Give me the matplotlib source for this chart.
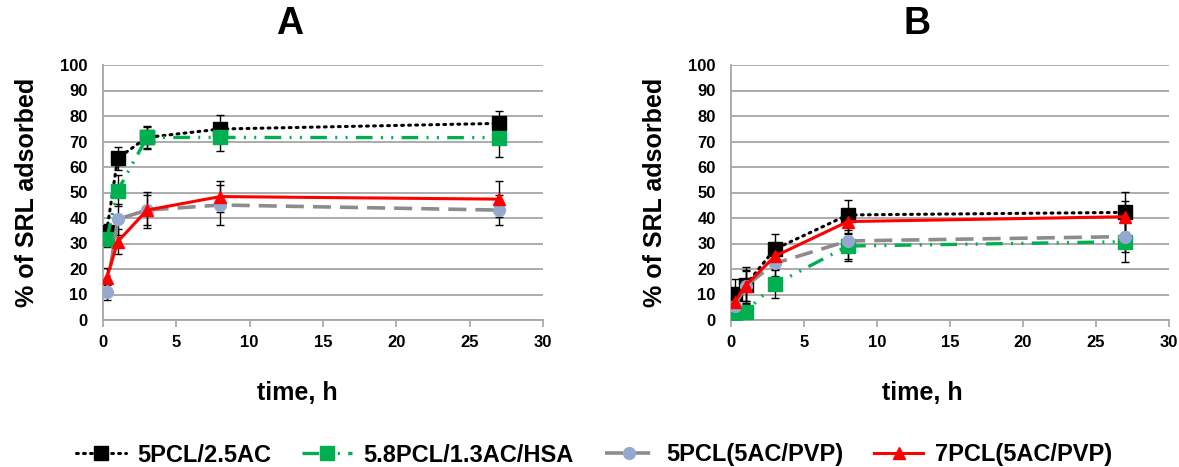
import matplotlib
matplotlib.use("Agg")
import matplotlib.pyplot as plt

plt.rcParams['font.family'] = ['Liberation Sans', 'DejaVu Sans']
plt.rcParams['font.weight'] = 'bold'

labels = ["5PCL/2.5AC", "5.8PCL/1.3AC/HSA", "5PCL(5AC/PVP)", "7PCL(5AC/PVP)"]
t = [0.25, 1, 3, 8, 27]

# Panel A
A_black = [34.6, 63.4, 71.6, 74.9, 77.1]
A_black_err = [3, 4.6, 4.4, 5.4, 5]
A_green = [31.6, 50.7, 71.6, 71.6, 71.5]
A_green_err = [3, 6, 4, 5.5, 7.7]
A_grey = [10.8, 39.5, 43.1, 45.1, 43.1]
A_grey_err = [3, 6, 6, 8, 6]
A_red = [16.3, 30.7, 43.1, 48.4, 47.4]
A_red_err = [4, 5, 7, 6, 7]

# Panel B
B_black = [10.2, 13.7, 27.8, 41.2, 42.2]
B_black_err = [5.8, 7, 5.8, 6, 8]
B_green = [0.3, 3.3, 14, 29, 30.7]
B_green_err = [1, 3, 5.5, 5, 7.8]
B_grey = [5.5, 13.3, 22.2, 31, 32.7]
B_grey_err = [3, 6, 5, 7.7, 6]
B_red = [7.0, 13.5, 25.0, 38.6, 40.5]
B_red_err = [4, 6, 5, 5, 6]

styles = [
    dict(color='black', linestyle=(0, (0.6, 1.7)), linewidth=2.2, marker='s', markersize=9.5,
         markerfacecolor='black', markeredgecolor='black', dash_capstyle='round'),
    dict(color='#00B050', linestyle=(0, (5, 2.5, 0.6, 2.5, 0.6, 2.5)), linewidth=2.4, marker='s', markersize=9.5,
         markerfacecolor='#00B050', markeredgecolor='#00B050'),
    dict(color='#8C8C8C', linestyle=(0, (5, 2.5)), linewidth=2.6, marker='o', markersize=8.5,
         markerfacecolor='#95A9D0', markeredgecolor='#95A9D0'),
    dict(color='#FF0000', linestyle='-', linewidth=2.2, marker='^', markersize=9,
         markerfacecolor='#FF0000', markeredgecolor='#FF0000'),
]

fig = plt.figure(figsize=(11.79, 4.67), dpi=100)
W, H = 1179, 467
axA = fig.add_axes([103 / W, 1 - 320 / H, 440 / W, 255 / H])
axB = fig.add_axes([731 / W, 1 - 320 / H, 438 / W, 255 / H])

dataA = [(A_black, A_black_err), (A_green, A_green_err), (A_grey, A_grey_err), (A_red, A_red_err)]
dataB = [(B_black, B_black_err), (B_green, B_green_err), (B_grey, B_grey_err), (B_red, B_red_err)]

handles = []
for ax, data, title, tx, xl in [(axA, dataA, 'A', 290, 0.441), (axB, dataB, 'B', 917, 0.436)]:
    hs = []
    for (y, e), st, lab in zip(data, styles, labels):
        ax.errorbar(t, y, yerr=e, fmt='none', ecolor='black', elinewidth=1, capsize=3, capthick=1, zorder=2)
        h, = ax.plot(t, y, label=lab, zorder=3, **st)
        hs.append(h)
    handles = hs
    ax.set_xlim(0, 30)
    ax.set_ylim(0, 100)
    ax.set_xticks(range(0, 31, 5))
    ax.set_yticks(range(0, 101, 10))
    ax.yaxis.grid(True, color='#A6A6A6', linewidth=1.3)
    ax.set_axisbelow(True)
    for s in ['top', 'right']:
        ax.spines[s].set_visible(False)
    for s in ['left', 'bottom']:
        ax.spines[s].set_color('#A6A6A6')
        ax.spines[s].set_linewidth(1.3)
    ax.tick_params(axis='y', length=0, labelsize=12, pad=11)
    ax.tick_params(axis='x', length=5, color='#A6A6A6', width=1.2, labelsize=12, pad=6)
    for lbl in ax.get_xticklabels() + ax.get_yticklabels():
        lbl.set_fontweight('bold')
    ax.set_ylabel('% of SRL adsorbed', fontsize=18, fontweight='bold', labelpad=15)
    ax.set_xlabel('time, h', fontsize=18, fontweight='bold', labelpad=22)
    ax.xaxis.label.set_x(xl)
    fig.text(tx / W, 1 - 24 / H, title, fontsize=27, fontweight='bold', ha='center', va='center')

fig.legend(handles, labels, loc='center', bbox_to_anchor=(0.504, 1 - 455 / H), ncol=4, frameon=False,
           prop=dict(size=17, weight='bold'), columnspacing=1.3, handlelength=2.1, handletextpad=0.5)

fig.savefig('out.png', dpi=100)
